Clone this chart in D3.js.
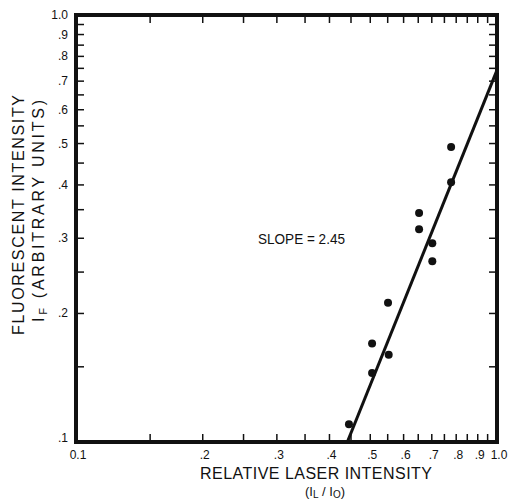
<!DOCTYPE html>
<html>
<head>
<meta charset="utf-8">
<script src="https://cdn.jsdelivr.net/npm/d3@7"></script>
<style>
	body { margin: 0; background: #fff; }
	text { font-family: "Liberation Sans", Arial, sans-serif; fill: #111; }
</style>
</head>
<body>
<svg id="chart" width="510" height="502"></svg>
<script>
// measured points (relative laser intensity, fluorescent intensity)
var laserX = [0.445, 0.505, 0.505, 0.551, 0.553, 0.653, 0.653, 0.702, 0.702, 0.778, 0.778];
var fluorY = [0.110, 0.170, 0.145, 0.212, 0.160, 0.344, 0.315, 0.292, 0.265, 0.491, 0.406];

// fitted line  I_F = a * I_L^slope
var fitSlope = 2.45;
var fitAt1 = 0.743;

var xTickLabels = ['0.1', '.2', '.3', '.4', '.5', '.6', '.7', '.8', '.9', '1.0'];
var yTickLabels = ['.1', '.2', '.3', '.4', '.5', '.6', '.7', '.8', '.9', '1.0'];
var labelVals = [0.1, 0.2, 0.3, 0.4, 0.5, 0.6, 0.7, 0.8, 0.9, 1.0];
var minorVals = [0.15, 0.2, 0.25, 0.3, 0.35, 0.4, 0.45, 0.5, 0.55, 0.6, 0.65, 0.7, 0.75, 0.8, 0.85, 0.9, 0.95];

var pLeft = 76, pRight = 497, pTop = 15, pBottom = 442;
var svg = d3.select('#chart');

var x = d3.scaleLog().domain([0.1, 1]).range([pLeft, pRight]);
var y = d3.scaleLog().domain([0.1, 1]).range([pBottom, pTop]);

var tickLen = 8;
var g = svg.append('g');

//ticks on all four sides, pointing in
minorVals.forEach(function(v){
	g.append('line').attr('x1', x(v)).attr('x2', x(v)).attr('y1', pBottom).attr('y2', pBottom - tickLen)
		.attr('stroke', '#111').attr('stroke-width', 1.5);
	g.append('line').attr('x1', x(v)).attr('x2', x(v)).attr('y1', pTop).attr('y2', pTop + tickLen)
		.attr('stroke', '#111').attr('stroke-width', 1.5);
	g.append('line').attr('x1', pLeft).attr('x2', pLeft + tickLen).attr('y1', y(v)).attr('y2', y(v))
		.attr('stroke', '#111').attr('stroke-width', 1.5);
	g.append('line').attr('x1', pRight).attr('x2', pRight - tickLen).attr('y1', y(v)).attr('y2', y(v))
		.attr('stroke', '#111').attr('stroke-width', 1.5);
});

//frame
g.append('rect').attr('x', pLeft).attr('y', pTop).attr('width', pRight - pLeft).attr('height', pBottom - pTop)
	.attr('fill', 'none').attr('stroke', '#111').attr('stroke-width', 4);

//tick labels
labelVals.forEach(function(v, i){
	g.append('text').attr('x', x(v) + 2).attr('y', pBottom + 17)
		.attr('text-anchor', 'middle').style('font-size', '12px').text(xTickLabels[i]);
	g.append('text').attr('x', pLeft - 8).attr('y', y(v) + (i == 0 ? 0 : 4))
		.attr('text-anchor', 'end').style('font-size', '12px').text(yTickLabels[i]);
});

//fit line
var x0 = Math.pow(0.1 / fitAt1, 1 / fitSlope);
var fitPts = [x0, 1].map(function(v){ return [x(v), y(fitAt1 * Math.pow(v, fitSlope))]; });
g.append('path').attr('d', d3.line()(fitPts))
	.attr('stroke', '#111').attr('stroke-width', 3).attr('fill', 'none');

//points
laserX.forEach(function(v, i){
	g.append('circle').attr('cx', x(v)).attr('cy', y(fluorY[i])).attr('r', 4).attr('fill', '#111');
});

g.append('text').attr('x', 258).attr('y', 244).style('font-size', '15px')
	.attr('textLength', 87).attr('lengthAdjust', 'spacingAndGlyphs').text('SLOPE = 2.45');

//axis titles
g.append('text').attr('x', 200).attr('y', 479).style('font-size', '16px')
	.attr('textLength', 232).attr('lengthAdjust', 'spacing').text('RELATIVE LASER INTENSITY');
var sub = g.append('text').attr('x', 325).attr('y', 496).attr('text-anchor', 'middle').style('font-size', '13px');
sub.append('tspan').text('(I');
sub.append('tspan').attr('dy', 2).style('font-size', '10px').text('L');
sub.append('tspan').attr('dy', -2).text(' / I');
sub.append('tspan').attr('dy', 2).style('font-size', '10px').text('O');
sub.append('tspan').attr('dy', -2).text(')');

g.append('text').attr('transform', 'translate(24,335) rotate(-90)').style('font-size', '16px')
	.attr('textLength', 240).attr('lengthAdjust', 'spacing').text('FLUORESCENT INTENSITY');
var yl = g.append('text').attr('transform', 'translate(44,322) rotate(-90)').style('font-size', '16px')
	.attr('textLength', 222).attr('lengthAdjust', 'spacing');
yl.append('tspan').text('I');
yl.append('tspan').attr('dy', 3).style('font-size', '11px').text('F');
yl.append('tspan').attr('dy', -3).text('  (ARBITRARY UNITS)');
</script>
</body>
</html>
